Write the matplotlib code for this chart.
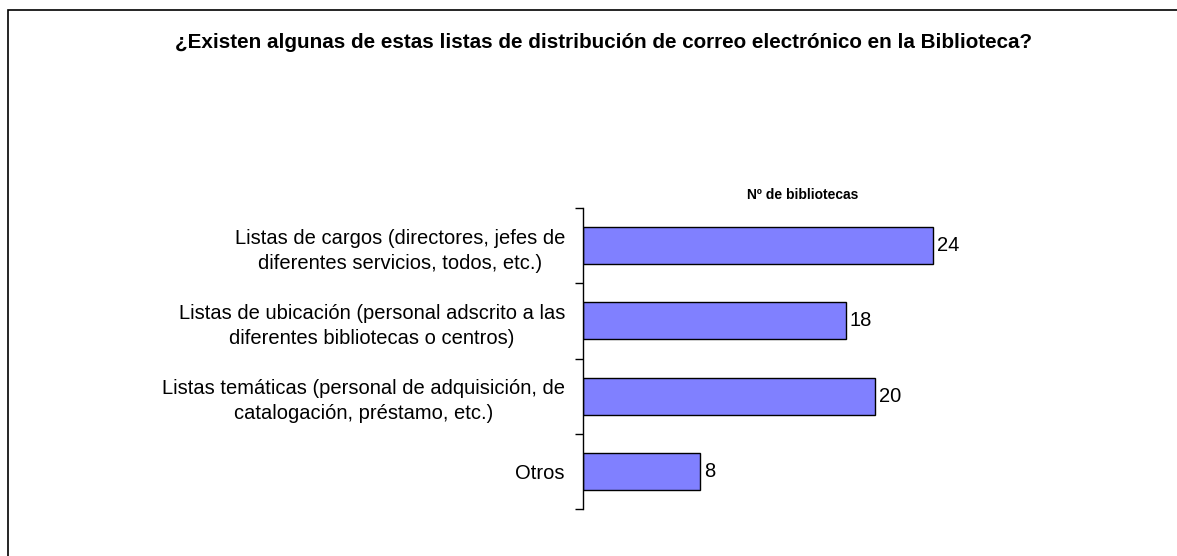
import matplotlib
matplotlib.use("Agg")
import matplotlib.pyplot as plt
from matplotlib.patches import Rectangle

plt.rcParams['font.family'] = ['Liberation Sans', 'DejaVu Sans']

title = "¿Existen algunas de estas listas de distribución de correo electrónico en la Biblioteca?"
series_name = "Nº de bibliotecas"
categories = [
    "Listas de cargos (directores, jefes de\ndiferentes servicios, todos, etc.)",
    "Listas de ubicación (personal adscrito a las\ndiferentes bibliotecas o centros)",
    "Listas temáticas (personal de adquisición, de\ncatalogación, préstamo, etc.)",
    "Otros",
]
values = [24, 18, 20, 8]

W, H = 1177, 556
fig = plt.figure(figsize=(W / 100, H / 100), dpi=100)

# outer frame
fig.patches.append(Rectangle((8 / W, -0.1), 1.2, 1 - 9.5 / H + 0.1, transform=fig.transFigure,
                             fill=False, edgecolor='black', linewidth=1.2))

ax_left, ax_right = 583, 1090
ax_top, ax_bot = 208, 509
ax = fig.add_axes([ax_left / W, 1 - ax_bot / H, (ax_right - ax_left) / W, (ax_bot - ax_top) / H])

px_per_unit = 350 / 24
xmax = (ax_right - ax_left) / px_per_unit
n = len(categories)
ypos = list(range(n))
ax.barh(ypos, values, height=0.49, color='#8080FF', edgecolor='black', linewidth=1)
ax.set_xlim(0, xmax)
ax.set_ylim(n - 0.5, -0.5)

for y, v in zip(ypos, values):
    ax.text(v + 0.3, y, str(v), va='center', ha='left', fontsize=14.5)

ax.set_yticks([i - 0.5 for i in range(n + 1)])
ax.set_yticklabels([])
ax.tick_params(axis='y', direction='out', length=6, width=1, color='black')
ax.set_yticks(ypos, minor=True)
ax.set_yticklabels(categories, minor=True, fontsize=14.5, ha='right', multialignment='center', linespacing=1.4)
ax.tick_params(axis='y', which='minor', length=0, pad=13)
ax.set_xticks([])
for s in ['top', 'right', 'bottom']:
    ax.spines[s].set_visible(False)
ax.spines['left'].set_color('black')
ax.spines['left'].set_linewidth(1)
ax.patch.set_alpha(0)

fig.text(604 / W, 1 - 43 / H, title, ha='center', va='center', fontsize=14.9, fontweight='bold')
fig.text(803 / W, 1 - 195 / H, series_name, ha='center', va='center', fontsize=10, fontweight='bold')

fig.savefig("out.png", dpi=100, facecolor='white')
